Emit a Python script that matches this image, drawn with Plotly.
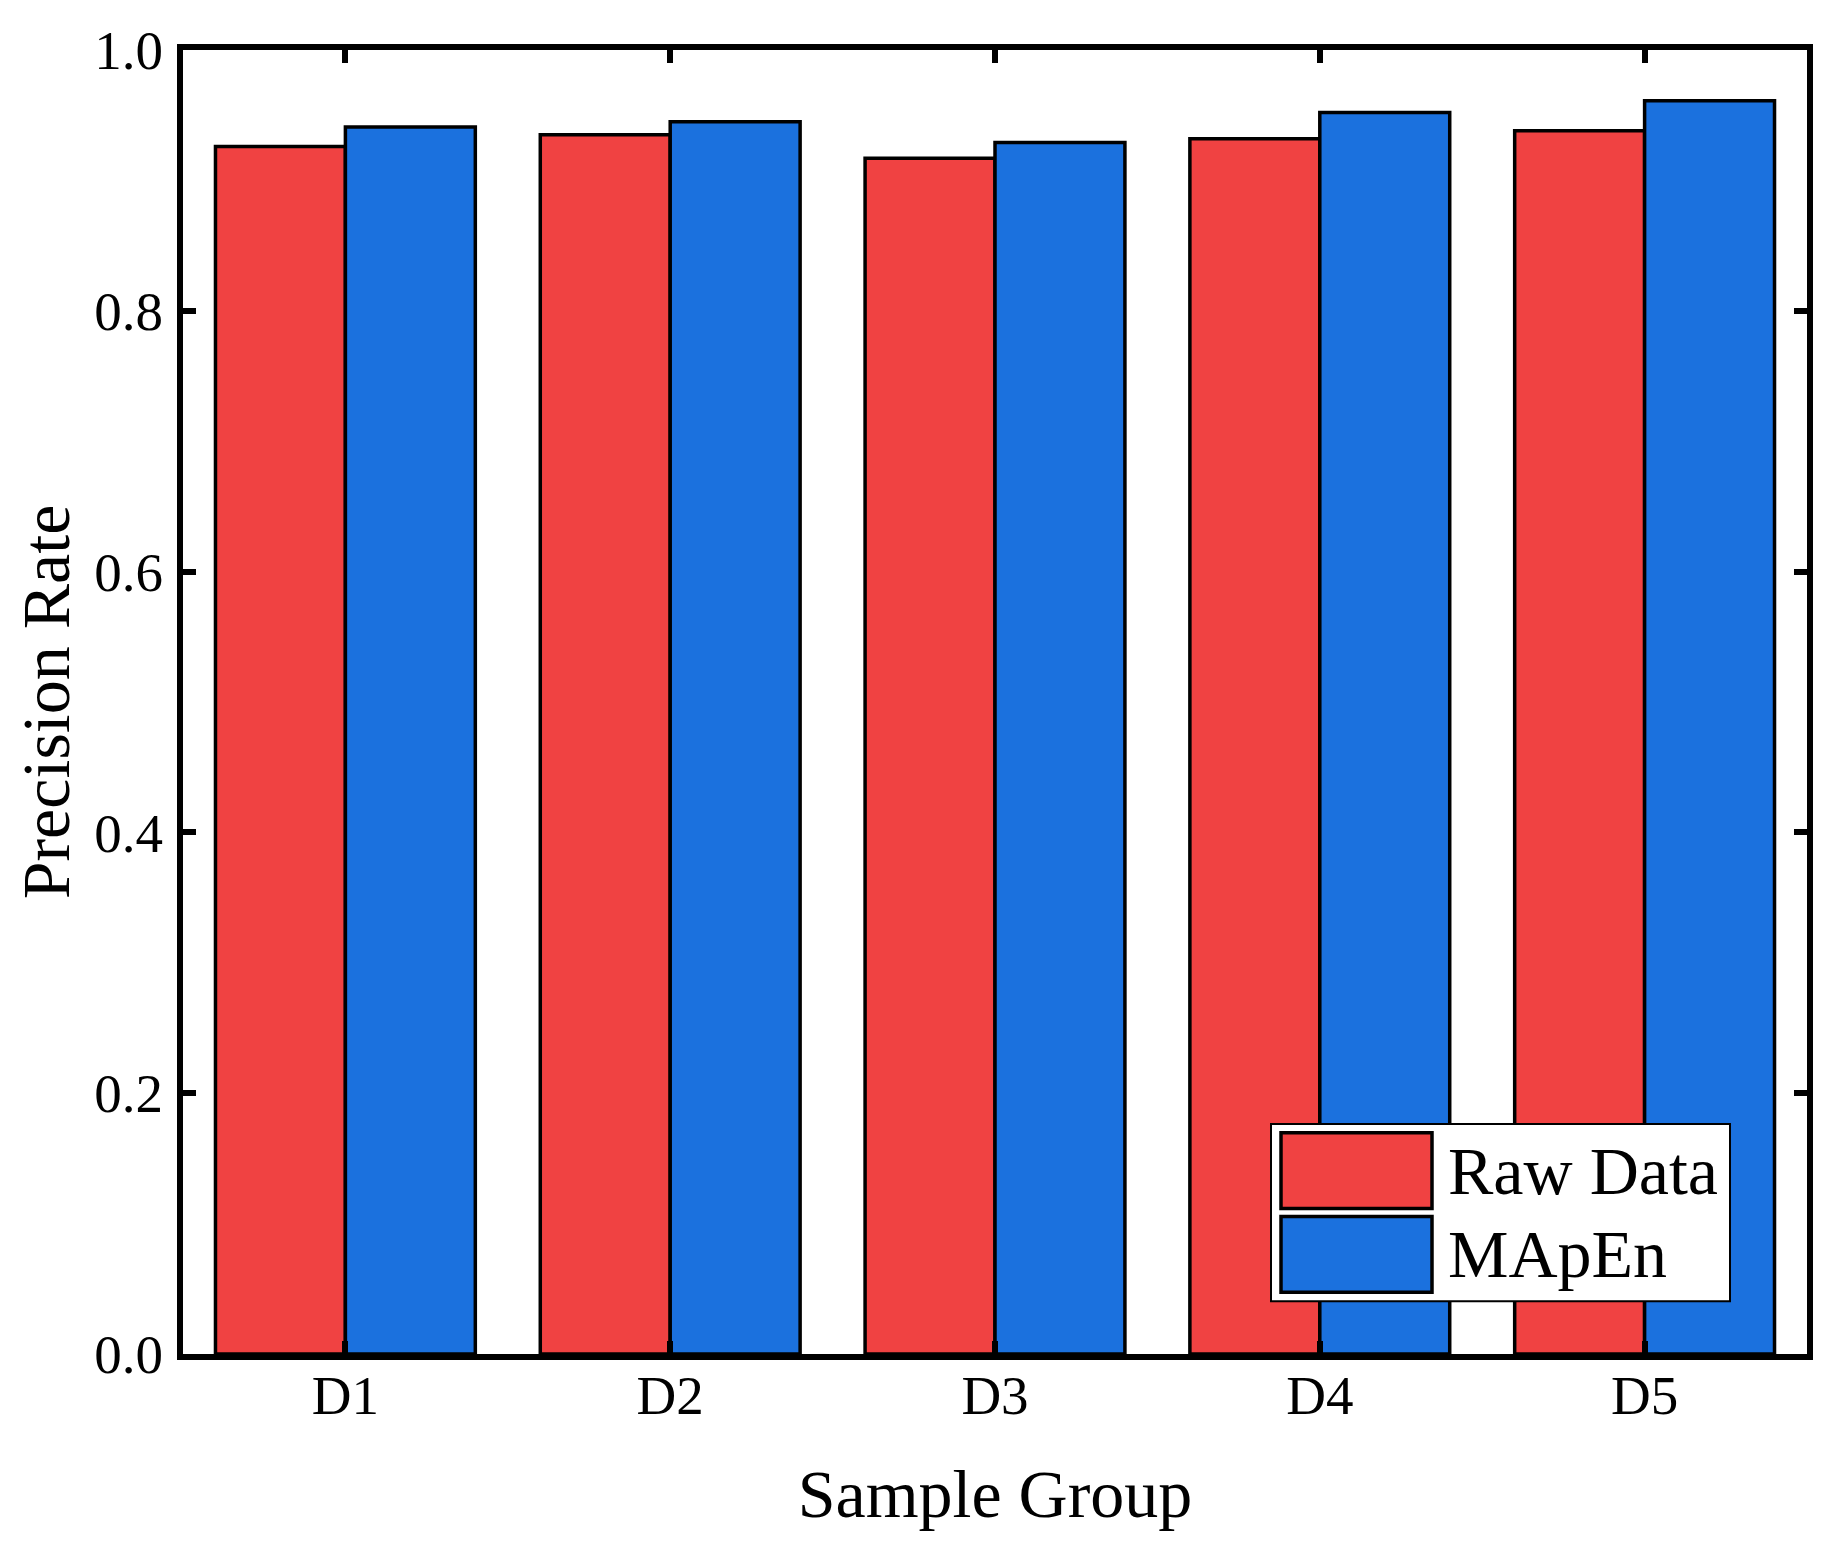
import plotly.graph_objects as go

categories = ["D1", "D2", "D3", "D4", "D5"]
raw_data = [0.926, 0.935, 0.917, 0.932, 0.938]
mapen = [0.941, 0.945, 0.929, 0.952, 0.961]
series_names = ["Raw Data", "MApEn"]
colors = ["#F04242", "#1B71DE"]
y_ticks = [0.0, 0.2, 0.4, 0.6, 0.8, 1.0]
y_tick_labels = ["0.0", "0.2", "0.4", "0.6", "0.8", "1.0"]

FONT = "Liberation Serif, Times New Roman, serif"
W, H = 1837, 1551
L, R, T, B = 175, 38, 37, 205
OFF = 8  # page body margin

fig = go.Figure()
for name, vals, col in zip(series_names, [raw_data, mapen], colors):
    fig.add_trace(go.Bar(
        x=categories, y=vals, name=name,
        marker=dict(color=col, line=dict(color="black", width=3.5)),
        showlegend=False,
    ))

axis_common = dict(
    showline=True, linecolor="black", linewidth=6, mirror="ticks",
    ticks="inside", ticklen=13, tickwidth=5.5, tickcolor="black",
    showgrid=False, zeroline=False,
    tickfont=dict(family=FONT, size=55, color="black"),
    title_font=dict(family=FONT, size=68, color="black"),
)

fig.update_xaxes(**axis_common, title_text="Sample Group", title_standoff=46,
                 range=[-0.5, 4.5], ticklabelstandoff=-12)
fig.update_yaxes(**axis_common, title_text="Precision Rate", range=[0, 1.0],
                 tickvals=y_ticks, ticktext=y_tick_labels, title_standoff=14,
                 ticklabelstandoff=3)

# custom legend (large swatches), positions given in screenshot pixels
pw, ph = W - L - R, H - T - B
def px_x(p):
    return (p - OFF - L) / pw
def px_y(p):
    return (H - B - (p - OFF)) / ph

shapes = [dict(type="rect", xref="paper", yref="paper",
               x0=px_x(1271), x1=px_x(1730), y0=px_y(1301), y1=px_y(1123),
               line=dict(color="black", width=2), fillcolor="white", layer="above")]
sw_rows = [(1132, 1208), (1216, 1292)]
annotations = []
for (y0, y1), col, name in zip(sw_rows, colors, series_names):
    shapes.append(dict(type="rect", xref="paper", yref="paper",
                       x0=px_x(1281), x1=px_x(1432), y0=px_y(y1), y1=px_y(y0),
                       line=dict(color="black", width=3.5), fillcolor=col, layer="above"))
    annotations.append(dict(xref="paper", yref="paper", x=px_x(1446),
                            y=px_y((y0 + y1) / 2), xanchor="left", yanchor="middle",
                            text=name, showarrow=False,
                            font=dict(family=FONT, size=68, color="black")))

fig.update_layout(
    width=W, height=H,
    margin=dict(l=L, r=R, t=T, b=B),
    paper_bgcolor="white", plot_bgcolor="white",
    barmode="group", bargap=0.2, bargroupgap=0,
    shapes=shapes, annotations=annotations,
    font=dict(family=FONT, color="black"),
)

fig.write_html("out.html")
